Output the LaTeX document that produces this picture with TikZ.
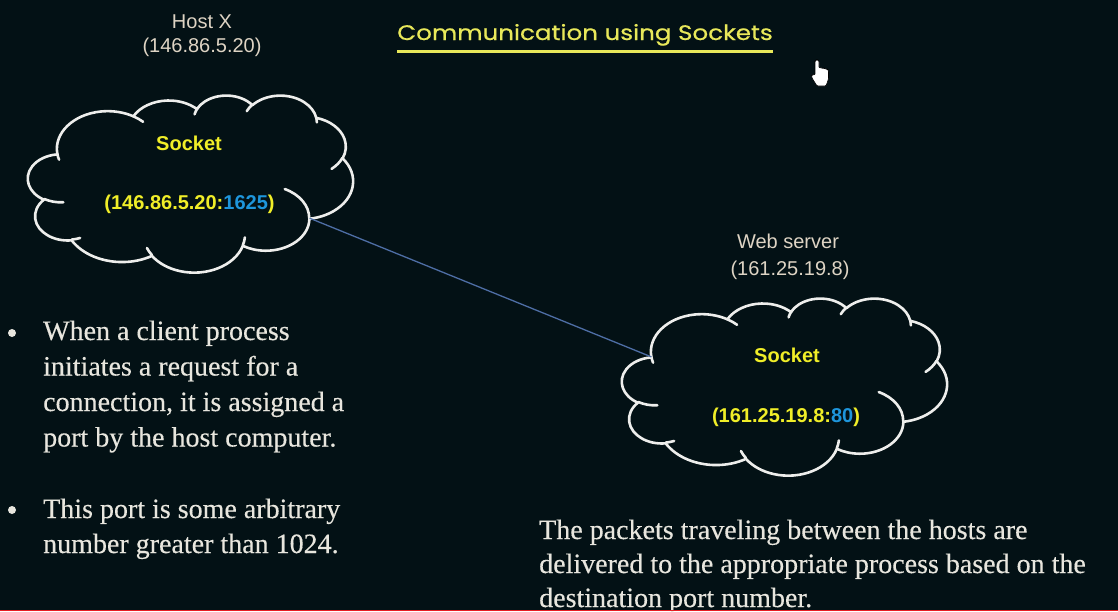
\documentclass[tikz,border=0pt]{standalone}
\usepackage{fontspec}
\setmainfont{Liberation Serif}
\newfontfamily\labelfont{Liberation Sans}
\newfontfamily\bodyfont[FakeBold=0.3]{Liberation Serif}
\newfontfamily\titlefont[FakeStretch=1.17,FakeBold=0.6]{Poppins}

\definecolor{slidebg}{RGB}{3,17,21}
\definecolor{cloudwhite}{RGB}{238,238,236}
\definecolor{labeltan}{RGB}{222,212,196}
\definecolor{bodygrey}{RGB}{232,230,222}
\definecolor{sockyellow}{RGB}{240,238,40}
\definecolor{titleyellow}{RGB}{232,232,90}
\definecolor{portblue}{RGB}{30,150,220}
\definecolor{linkblue}{RGB}{78,110,165}
\definecolor{barred}{RGB}{230,30,36}

\tikzset{
  % elliptical arc given by radii and polar start/sweep angles (degrees)
  pptarc/.style n args={4}{x radius=#1, y radius=#2,
    start angle={atan2((#1)*sin(#3),(#2)*cos(#3))},
    delta angle={mod(atan2((#1)*sin((#3)+(#4)),(#2)*cos((#3)+(#4)))-atan2((#1)*sin(#3),(#2)*cos(#3))+720,360)}},
  cloudline/.style={draw=cloudwhite, line width=2.6pt, line join=round, line cap=round},
  hostlabel/.style={text=labeltan, font=\labelfont\fontsize{20}{24}\selectfont, inner sep=0pt, anchor=base},
  socklabel/.style={text=sockyellow, font=\labelfont\bfseries\fontsize{20}{24}\selectfont, inner sep=0pt, anchor=base},
  bodyline/.style={text=bodygrey, font=\bodyfont\fontsize{28}{32}\selectfont, inner sep=0pt, anchor=base west},
  bulletdot/.style={circle, fill=bodygrey, inner sep=0pt, minimum size=8pt},
  titletext/.style={text=titleyellow, font=\titlefont\fontsize{21}{25}\selectfont, inner sep=0pt, anchor=base},
  link/.style={draw=linkblue, line width=1.3pt},
}

% cloud outline in a 43.2 x 43.2 box; #1 name prefix, #2 left, #3 top
\newcommand\slidecloud[3]{%
  \begin{scope}[shift={(#2pt,-#3pt)}, x=7.5231pt, y=-4.0972pt]
    \draw[cloudline] (3.900,14.370)
      arc[pptarc={6.753}{9.190}{-190.48748}{123.78053}]
      arc[pptarc={5.333}{7.267}{-144.10238}{89.94523}]
      arc[pptarc={4.365}{5.945}{-145.80792}{99.72302}]
      arc[pptarc={4.857}{6.595}{-130.98607}{117.24173}]
      arc[pptarc={5.333}{7.273}{-78.70888}{109.02692}]
      arc[pptarc={6.775}{9.220}{-46.26725}{130.26900}]
      arc[pptarc={5.785}{7.867}{0.62502}{114.03333}]
      arc[pptarc={6.752}{9.215}{22.45160}{115.17255}]
      arc[pptarc={7.720}{10.543}{66.24263}{75.71102}]
      arc[pptarc={4.360}{5.918}{-274.94208}{146.73557}]
      arc[pptarc={4.345}{5.945}{-246.82850}{152.51885}]
      -- cycle;
    \draw[cloudline]
      (4.693,26.177) arc[pptarc={4.345}{5.945}{86.74200}{26.42950}]
      (6.928,34.899) arc[pptarc={4.360}{5.918}{73.61047}{11.44747}]
      (16.478,39.090) arc[pptarc={6.752}{9.215}{137.62415}{14.08110}]
      (28.827,34.751) arc[pptarc={6.752}{9.215}{6.45327}{15.99835}]
      (34.129,22.954) arc[pptarc={5.785}{7.867}{-70.29235}{70.91737}]
      (41.798,15.354) arc[pptarc={5.333}{7.273}{30.31803}{27.75150}]
      (38.324,5.426) arc[pptarc={4.857}{6.595}{-13.74433}{14.85890}]
      (29.078,3.952) arc[pptarc={4.857}{6.595}{-149.18145}{18.19537}]
      (22.141,4.720) arc[pptarc={4.365}{5.945}{-163.49427}{17.68635}]
      (14.000,5.192) arc[pptarc={6.753}{9.190}{-66.70695}{12.31935}]
      (4.127,15.789) arc[pptarc={6.753}{9.190}{157.65435}{11.85817}];
    \coordinate (#1-east) at (37.441,30.074);
    \coordinate (#1-west) at (3.900,14.370);
  \end{scope}%
}

\begin{document}
\begin{tikzpicture}[x=1pt, y=-1pt]
  \useasboundingbox (0,0) rectangle (1118,611);
  \fill[slidebg] (0,0) rectangle (1118,611);

  % title
  \node[titletext] (title) at (585,40) {Communication using Sockets};
  \draw[titleyellow, line width=2.2pt]
    ([yshift=-11.5pt]title.base west) -- ([yshift=-11.5pt]title.base east);

  % client host
  \node[hostlabel] (hostx) at (202,28) {Host X};
  \node[hostlabel] (hostxip) at (202,52) {(146.86.5.20)};
  \slidecloud{c1}{28}{95}
  \node[socklabel] (sock1) at (189,150.5) {Socket};
  \node[socklabel] (addr1) at (189.5,209.5) {(146.86.5.20:\textcolor{portblue}{1625})};

  % server host
  \node[hostlabel] (websrv) at (788,248) {Web server};
  \node[hostlabel] (websrvip) at (790,275) {(161.25.19.8)};
  \slidecloud{c2}{622}{298}
  \node[socklabel] (sock2) at (787,362.5) {Socket};
  \node[socklabel] (addr2) at (786,422.5) {(161.25.19.8:\textcolor{portblue}{80})};

  % connection between the two sockets
  \draw[link] (c1-east) -- (c2-west);

  % bullet points
  \node[bulletdot] (dot1) at (12,333) {};
  \node[bodyline] (b1l1) at (43,340) {When a client process};
  \node[bodyline] (b1l2) at (43,375.5) {initiates a request for a};
  \node[bodyline] (b1l3) at (43,411) {connection, it is assigned a};
  \node[bodyline] (b1l4) at (43,446.5) {port by the host computer.};
  \node[bulletdot] (dot2) at (12,510) {};
  \node[bodyline] (b2l1) at (43,518) {This port is some arbitrary};
  \node[bodyline] (b2l2) at (43,553) {number greater than 1024.};

  % note under the server
  \node[bodyline] (n1) at (539,539) {The packets traveling between the hosts are};
  \node[bodyline] (n2) at (539,573) {delivered to the appropriate process based on the};
  \node[bodyline] (n3) at (539,607) {destination port number.};

  % pointer
  \draw[fill=white, draw=black, line width=0.6pt, rounded corners=1pt]
    (815,75) -- (815,61) -- (816,60) -- (818,60) -- (819,61) -- (819,68)
    -- (821,67.5) -- (822.5,68.5) -- (824,68) -- (825.5,69) -- (827,69)
    -- (828.5,70.5) -- (828.5,79) -- (826,86) -- (817,86) -- (812,78)
    -- (811.5,75.5) -- (813,74.5) -- cycle;

  % progress bar
  \fill[barred] (0,609.5) rectangle (1118,611);
\end{tikzpicture}
\end{document}
